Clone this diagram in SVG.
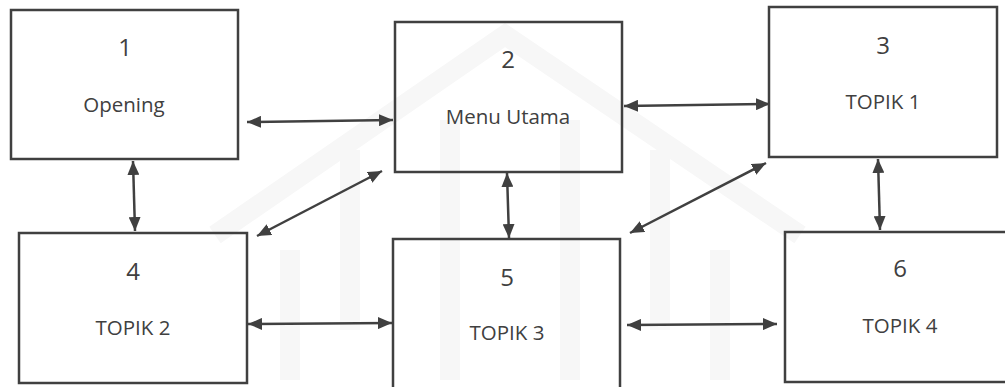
<svg xmlns="http://www.w3.org/2000/svg" width="1005" height="387" viewBox="0 0 1005 387">
<style>
.box{fill:none;stroke:#404040;stroke-width:2.5}
.num{font-family:"Open Sans","Liberation Sans",sans-serif;font-size:24px;fill:#404040;text-anchor:middle}
.lbl{font-family:"Open Sans","Liberation Sans",sans-serif;font-size:20.5px;fill:#404040;text-anchor:middle}
.con{stroke:#404040;stroke-width:2.5;fill:none;marker-start:url(#ah);marker-end:url(#ah)}
.wm{fill:none;stroke:#f7f7f7;stroke-width:20}
</style>
<defs>
<marker id="ah" viewBox="0 0 14 12" refX="14" refY="6" markerWidth="14" markerHeight="12" markerUnits="userSpaceOnUse" orient="auto-start-reverse">
<path d="M0,0 L14,6 L0,12 Z" fill="#404040"/>
</marker>
</defs>
<rect width="1005" height="387" fill="#ffffff"/>
<g id="watermark">
<path class="wm" d="M215,235 L505,35 L800,235"/>
<path class="wm" d="M290,250 L290,380 M350,150 L350,330 M450,120 L450,380 M570,120 L570,380 M660,150 L660,330 M720,250 L720,380"/>
</g>
<g id="connectors">
<line class="con" x1="247" y1="122" x2="393" y2="120"/>
<line class="con" x1="624" y1="106" x2="770" y2="104"/>
<line class="con" x1="133" y1="161" x2="135" y2="231"/>
<line class="con" x1="507" y1="173" x2="509" y2="238"/>
<line class="con" x1="878" y1="159" x2="880" y2="230"/>
<line class="con" x1="248" y1="324" x2="392" y2="323"/>
<line class="con" x1="627" y1="325" x2="777" y2="324"/>
<line class="con" x1="257" y1="236" x2="382" y2="171"/>
<line class="con" x1="630" y1="233" x2="766" y2="163"/>
</g>
<g id="node1">
<rect class="box" x="11" y="10" width="227" height="149"/>
<text class="num" x="125" y="56">1</text>
<text class="lbl" x="124" y="112">Opening</text>
</g>
<g id="node2">
<rect class="box" x="395" y="22" width="227" height="150"/>
<text class="num" x="508" y="68">2</text>
<text class="lbl" x="508" y="124">Menu Utama</text>
</g>
<g id="node3">
<rect class="box" x="769" y="7" width="228" height="150"/>
<text class="num" x="883" y="54">3</text>
<text class="lbl" x="883" y="109">TOPIK 1</text>
</g>
<g id="node4">
<rect class="box" x="19" y="233" width="228" height="150"/>
<text class="num" x="133" y="280">4</text>
<text class="lbl" x="133" y="335">TOPIK 2</text>
</g>
<g id="node5">
<rect class="box" x="393" y="239" width="227" height="160"/>
<text class="num" x="507" y="286">5</text>
<text class="lbl" x="507" y="340">TOPIK 3</text>
</g>
<g id="node6">
<rect class="box" x="785" y="232" width="230" height="150"/>
<text class="num" x="900" y="277">6</text>
<text class="lbl" x="900" y="333">TOPIK 4</text>
</g>
</svg>
